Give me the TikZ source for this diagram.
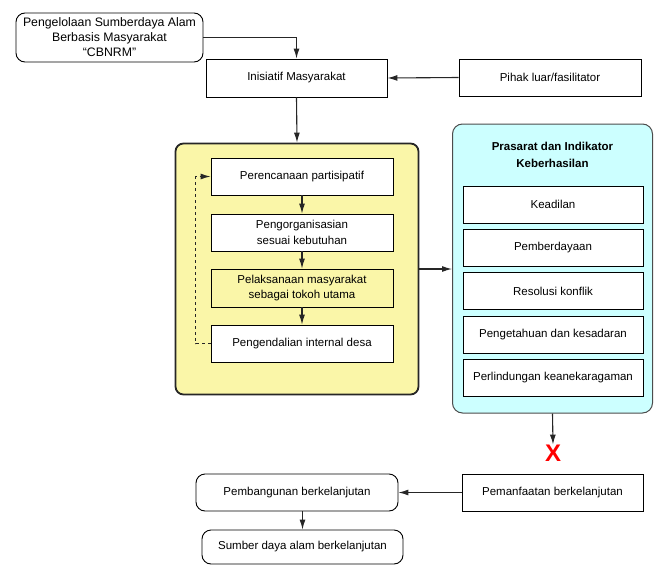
\documentclass[tikz,border=0pt]{standalone}
\usepackage{fontspec}
\setmainfont{Liberation Sans}
\usepackage{tikz}
\usepackage{xcolor}
\usetikzlibrary{arrows.meta}
\definecolor{panelyellow}{RGB}{250,246,168}
\definecolor{panelcyan}{RGB}{204,255,255}

\begin{document}
\begin{tikzpicture}[x=1pt, y=-1pt, font=\fontsize{11.5}{15.5}\selectfont,
    >={Latex[length=10pt,width=6pt]},
    box/.style={draw, line width=0.9pt, fill=white, align=center, inner sep=1pt},
    roundbox/.style={box, rounded corners=9pt},
    link/.style={->, line width=1.1pt, draw=black!85}]
            \useasboundingbox (0, 0) rectangle (654, 565);

            \node[roundbox, minimum width=187, minimum height=49, font=\fontsize{12.3}{15}\selectfont] (cbnrm) at (109.5, 37.5) {Pengelolaan Sumberdaya Alam\\ Berbasis Masyarakat\\ “CBNRM”};
            \node[box, minimum width=181, minimum height=38] (inisiatif) at (296.5, 78) {Inisiatif Masyarakat};
            \node[box, minimum width=182, minimum height=37] (pihak) at (550, 77.5) {Pihak luar/fasilitator};

            % proses internal desa
            \node[draw=black!85, line width=1.8pt, fill=panelyellow, rounded corners=8pt, minimum width=243, minimum height=251] (proses) at (297, 269) {};
            \node[box, minimum width=182, minimum height=37] (rencana) at (302, 176.5) {Perencanaan partisipatif};
            \node[box, minimum width=182, minimum height=37] (organisasi) at (302, 232.5) {Pengorganisasian\\ sesuai kebutuhan};
            \node[box, fill=panelyellow, minimum width=182, minimum height=38] (pelaksanaan) at (302, 288) {Pelaksanaan masyarakat\\ sebagai tokoh utama};
            \node[box, minimum width=182, minimum height=37] (kendali) at (302, 343.5) {Pengendalian internal desa};

            % prasarat dan indikator
            \node[draw=black!70, line width=1pt, fill=panelcyan, rounded corners=10pt, minimum width=200, minimum height=289] (prasarat) at (552.5, 268.5) {};
            \node[align=center, font=\fontsize{11.5}{17}\selectfont\bfseries] (judul) at (552.5, 154.5) {Prasarat dan Indikator\\ Keberhasilan};
            \node[box, minimum width=180, minimum height=37] (keadilan) at (553, 204.5) {Keadilan};
            \node[box, minimum width=180, minimum height=37] (berdaya) at (553, 247.5) {Pemberdayaan};
            \node[box, minimum width=180, minimum height=37] (resolusi) at (553, 291) {Resolusi konflik};
            \node[box, minimum width=180, minimum height=37] (sadar) at (553, 334.5) {Pengetahuan dan kesadaran};
            \node[box, minimum width=180, minimum height=37] (lindung) at (553, 378) {Perlindungan keanekaragaman};

            \node[text=red, inner sep=0pt, font=\fontsize{24}{24}\selectfont\bfseries] (silang) at (553, 453) {X};

            \node[box, minimum width=181, minimum height=37] (manfaat) at (552.5, 492.5) {Pemanfaatan berkelanjutan};
            \node[roundbox, minimum width=202, minimum height=37] (bangun) at (297, 492.5) {Pembangunan berkelanjutan};
            \node[roundbox, minimum width=201, minimum height=34] (sumber) at (302.5, 547) {Sumber daya alam berkelanjutan};

            \draw[link] (cbnrm.east) -| (inisiatif.north);
            \draw[link] (pihak.west) -- (inisiatif.east);
            \draw[link] (inisiatif.south) -- (proses.north);
            \draw[link] (rencana) -- (organisasi);
            \draw[link] (organisasi) -- (pelaksanaan);
            \draw[link] (pelaksanaan) -- (kendali);
            \draw[link, dashed] (kendali.west) -- ++(-15, 0) |- (rencana.west);
            \draw[link] (proses.east) -- (proses.east -| prasarat.west);
            \draw[link] (prasarat.south) -- (silang.north);
            \draw[link] (manfaat.west) -- (bangun.east);
            \draw[link] (sumber.north |- bangun.south) -- (sumber.north);
        \end{tikzpicture}
\end{document}
